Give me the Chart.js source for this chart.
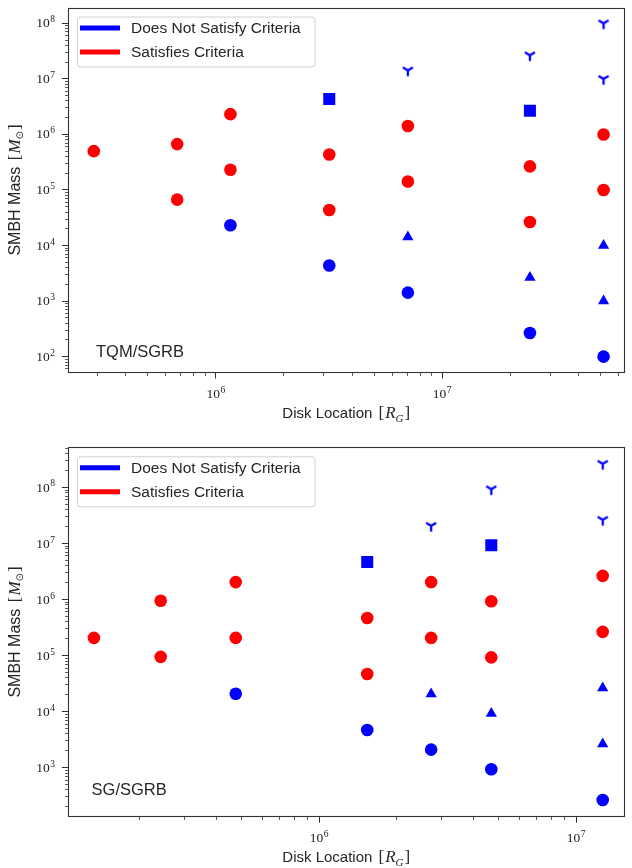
<!DOCTYPE html>
<html>
<head>
<meta charset="utf-8">
<script src="https://cdn.jsdelivr.net/npm/chart.js@4.4.1/dist/chart.umd.min.js"></script>
<style>
  html, body { margin: 0; padding: 0; background: #fff; }
  .panel { position: absolute; left: 0; width: 632px; height: 434px; }
  #p1 { top: 0; }
  #p2 { top: 434px; }
</style>
</head>
<body>
<div class="panel" id="p1"><canvas id="tqmChart"></canvas></div>
<div class="panel" id="p2"><canvas id="sgChart"></canvas></div>
<script>
// ---- data: disk location R [R_G] vs SMBH mass M [M_sun] ----
// top panel: TQM/SGRB
const tqmRedR = [2.89e5, 6.75e5, 6.75e5, 1.16e6, 1.16e6, 3.17e6, 3.17e6, 7.05e6, 7.05e6, 2.44e7, 2.44e7, 5.16e7, 5.16e7];
const tqmRedM = [5.0e5, 6.7e5, 6.7e4, 2.32e6, 2.32e5, 4.36e5, 4.36e4, 1.42e6, 1.42e5, 2.66e5, 2.66e4, 1.0e6, 1.0e5];
const tqmCircleR = [1.16e6, 3.17e6, 7.05e6, 2.44e7, 5.16e7];
const tqmCircleM = [2.32e4, 4.36e3, 1.42e3, 2.66e2, 1.0e2];
const tqmTriR = [7.05e6, 2.44e7, 5.16e7, 5.16e7];
const tqmTriM = [1.42e4, 2.66e3, 1.0e4, 1.0e3];
const tqmSquareR = [3.17e6, 2.44e7];
const tqmSquareM = [4.36e6, 2.66e6];
const tqmTriDownR = [7.05e6, 2.44e7, 5.16e7, 5.16e7];
const tqmTriDownM = [1.42e7, 2.66e7, 1.0e8, 1.0e7];

// bottom panel: SG/SGRB
const sgRedR = [1.33e5, 2.42e5, 2.42e5, 4.74e5, 4.74e5, 1.54e6, 1.54e6, 2.73e6, 2.73e6, 4.68e6, 4.68e6, 1.27e7, 1.27e7];
const sgRedM = [2.07e5, 9.5e5, 9.5e4, 2.05e6, 2.07e5, 4.7e5, 4.7e4, 2.05e6, 2.07e5, 9.3e5, 9.3e4, 2.65e6, 2.65e5];
const sgCircleR = [4.74e5, 1.54e6, 2.73e6, 4.68e6, 1.27e7];
const sgCircleM = [2.09e4, 4.7e3, 2.1e3, 9.4e2, 2.65e2];
const sgTriR = [2.73e6, 4.68e6, 1.27e7, 1.27e7];
const sgTriM = [2.07e4, 9.3e3, 2.65e4, 2.65e3];
const sgSquareR = [1.54e6, 4.68e6];
const sgSquareM = [4.7e6, 9.3e6];
const sgTriDownR = [2.73e6, 4.68e6, 1.27e7, 1.27e7];
const sgTriDownM = [2.07e7, 9.3e7, 2.65e8, 2.65e7];

// axis ranges and labelled decades
const tqmXRange = [2.246e5, 6.32e7];
const tqmYRange = [54, 1.85e8];
const sgXRange = [1.064e5, 1.53e7];
const sgYRange = [139, 5.0e8];
const tqmXMajors = [1e6, 1e7];
const tqmYMajors = [1e2, 1e3, 1e4, 1e5, 1e6, 1e7, 1e8];
const sgXMajors = [1e6, 1e7];
const sgYMajors = [1e3, 1e4, 1e5, 1e6, 1e7, 1e8];

const legendLabels = ['Does Not Satisfy Criteria', 'Satisfies Criteria'];
const BLUE = '#0000ff';
const RED = '#ff0000';
const legendColors = [BLUE, RED];

const SANS = '"Liberation Sans", Arial, sans-serif';
const SERIF = '"Liberation Serif", "DejaVu Serif", serif';

function pts(xs, ys) {
  return xs.map((x, i) => ({ x: x, y: ys[i] }));
}

// matplotlib "tri_down" marker, drawn once and used as a point image
function triDownMarker() {
  const c = document.createElement('canvas');
  c.width = 14;
  c.height = 14;
  const g = c.getContext('2d');
  const r = 5.8, cx = 7, cy = 7;
  g.strokeStyle = BLUE;
  g.lineWidth = 2.3;
  g.beginPath();
  g.moveTo(cx, cy); g.lineTo(cx, cy + r);
  g.moveTo(cx, cy); g.lineTo(cx - 0.866 * r, cy - 0.5 * r);
  g.moveTo(cx, cy); g.lineTo(cx + 0.866 * r, cy - 0.5 * r);
  g.stroke();
  return c;
}
const TRI_DOWN = triDownMarker();

function dataset(xs, ys, style, color, radius) {
  return {
    data: pts(xs, ys),
    showLine: false,
    pointStyle: style,
    pointRadius: radius,
    pointHoverRadius: radius,
    pointBackgroundColor: color,
    pointBorderColor: color,
    pointBorderWidth: 0
  };
}

function isDecade(v) {
  const e = Math.log10(v);
  return Math.abs(e - Math.round(e)) < 1e-9;
}

function logTicks(lo, hi) {
  const out = [];
  for (let e = Math.floor(Math.log10(lo)); e <= Math.ceil(Math.log10(hi)); e++) {
    for (let m = 1; m < 10; m++) {
      const v = m * Math.pow(10, e);
      if (v >= lo && v <= hi) out.push({ value: v });
    }
  }
  return out;
}

// "10" with a raised exponent, as matplotlib's log tick labels
function drawPower(ctx, value, x, y, align) {
  const base = '10';
  const sup = String(Math.round(Math.log10(value)));
  ctx.font = '13.5px ' + SERIF;
  const wb = ctx.measureText(base).width;
  ctx.font = '9.5px ' + SERIF;
  const ws = ctx.measureText(sup).width;
  const total = wb + 0.5 + ws;
  const x0 = align === 'right' ? x - total : x - total / 2;
  ctx.textAlign = 'left';
  ctx.textBaseline = 'middle';
  ctx.font = '13.5px ' + SERIF;
  ctx.fillText(base, x0, y);
  ctx.font = '9.5px ' + SERIF;
  ctx.fillText(sup, x0 + wb + 0.5, y - 4);
}

// text made of several runs (plain, italic, subscript)
function drawRuns(ctx, runs, x, y, align) {
  let total = 0;
  runs.forEach(r => {
    ctx.font = r.font;
    r.w = ctx.measureText(r.text).width + (r.gap || 0);
    total += r.w;
  });
  let cx = align === 'center' ? x - total / 2 : x;
  ctx.textAlign = 'left';
  ctx.textBaseline = 'alphabetic';
  runs.forEach(r => {
    ctx.font = r.font;
    ctx.fillText(r.text, cx, y + (r.dy || 0));
    cx += r.w;
  });
}

const xTitleRuns = [
  { text: 'Disk Location ', font: '15px ' + SANS, gap: 2 },
  { text: '[', font: '17px ' + SERIF, gap: 1 },
  { text: 'R', font: 'italic 17px ' + SERIF },
  { text: 'G', font: 'italic 11px ' + SERIF, dy: 3.5, gap: 1 },
  { text: ']', font: '17px ' + SERIF }
];
const yTitleRuns = [
  { text: 'SMBH Mass ', font: '16px ' + SANS, gap: 2 },
  { text: '[', font: '17px ' + SERIF, gap: 1 },
  { text: 'M', font: 'italic 17px ' + SERIF },
  { text: '⊙', font: '10px "DejaVu Sans", sans-serif', dy: 3.5, gap: 1 },
  { text: ']', font: '17px ' + SERIF }
];

// frame, tick labels, legend, panel label and axis titles
const panelDecor = {
  id: 'panelDecor',
  afterDraw(chart, args, opts) {
    const ctx = chart.ctx;
    const a = chart.chartArea;
    const xs = chart.scales.x, ys = chart.scales.y;
    ctx.save();

    ctx.strokeStyle = '#333';
    ctx.lineWidth = 1.1;
    ctx.strokeRect(Math.round(a.left) - 0.5, Math.round(a.top) - 0.5,
      Math.round(a.right) - Math.round(a.left) + 1, Math.round(a.bottom) - Math.round(a.top) + 1);

    ctx.fillStyle = '#222';
    opts.xMajors.forEach(v => drawPower(ctx, v, xs.getPixelForValue(v), a.bottom + 22.5, 'center'));
    opts.yMajors.forEach(v => drawPower(ctx, v, a.left - 14, ys.getPixelForValue(v) + 0.5, 'right'));

    // legend box
    const lx = a.left + 8.5, ly = a.top + 8.5, lw = 237.5, lh = 50;
    ctx.beginPath();
    ctx.roundRect(lx, ly, lw, lh, 3);
    ctx.fillStyle = 'rgba(255,255,255,0.8)';
    ctx.fill();
    ctx.strokeStyle = '#d0d0d0';
    ctx.lineWidth = 1;
    ctx.stroke();
    legendLabels.forEach((label, i) => {
      const yy = ly + 11 + i * 24;
      ctx.strokeStyle = legendColors[i];
      ctx.lineWidth = 5;
      ctx.beginPath();
      ctx.moveTo(lx + 2.5, yy);
      ctx.lineTo(lx + 42.5, yy);
      ctx.stroke();
      ctx.fillStyle = '#262626';
      ctx.font = '15.5px ' + SANS;
      ctx.textAlign = 'left';
      ctx.textBaseline = 'middle';
      ctx.fillText(label, lx + 53.5, yy + 1);
    });

    // panel label
    ctx.fillStyle = '#262626';
    ctx.font = '16.5px ' + SANS;
    ctx.textAlign = 'left';
    ctx.textBaseline = 'middle';
    ctx.fillText(opts.label, opts.labelX, opts.labelY);

    // axis titles
    ctx.fillStyle = '#262626';
    drawRuns(ctx, xTitleRuns, (a.left + a.right) / 2, a.bottom + 46.5, 'center');
    ctx.translate(19.5, (a.top + a.bottom) / 2);
    ctx.rotate(-Math.PI / 2);
    drawRuns(ctx, yTitleRuns, 0, 0, 'center');
    ctx.restore();
  }
};

function axis(range, isX, size) {
  return {
    type: 'logarithmic',
    min: range[0],
    max: range[1],
    afterBuildTicks(scale) {
      scale.ticks = logTicks(range[0], range[1]);
    },
    afterFit(scale) {
      if (isX) {
        scale.height = size;
        scale.paddingLeft = 0;
        scale.paddingRight = 0;
      } else {
        scale.width = size;
        scale.paddingTop = 0;
        scale.paddingBottom = 0;
      }
    },
    border: { display: false },
    grid: {
      drawOnChartArea: false,
      drawTicks: true,
      tickLength: 7,
      tickColor: '#333',
      tickWidth: c => (isDecade(c.tick.value) ? 1 : 0.8),
      // minor ticks keep only the 4 px next to the frame
      tickBorderDash: c => (isDecade(c.tick.value) ? [] : (isX ? [4, 50] : [0, 3, 4, 50]))
    },
    ticks: {
      autoSkip: false,
      maxRotation: 0,
      callback: () => ''   // labels are drawn by panelDecor with raised exponents
    }
  };
}

function buildChart(id, p) {
  return new Chart(document.getElementById(id), {
    type: 'scatter',
    data: {
      datasets: [
        dataset(p.redR, p.redM, 'circle', RED, 6.3),
        dataset(p.circleR, p.circleM, 'circle', BLUE, 6.3),
        dataset(p.triR, p.triM, 'triangle', BLUE, 6.5),
        dataset(p.squareR, p.squareM, 'rect', BLUE, 8.5),
        dataset(p.triDownR, p.triDownM, TRI_DOWN, BLUE, 7)
      ]
    },
    options: {
      responsive: true,
      maintainAspectRatio: false,
      animation: false,
      events: [],
      layout: { padding: { top: p.padTop, right: 1.5, left: 0, bottom: 0 } },
      plugins: {
        legend: { display: false },
        tooltip: { enabled: false },
        panelDecor: {
          label: p.label, labelX: p.labelX, labelY: p.labelY,
          xMajors: p.xMajors, yMajors: p.yMajors
        }
      },
      scales: {
        x: axis(p.xRange, true, p.xAxisHeight),
        y: axis(p.yRange, false, 69)
      }
    },
    plugins: [panelDecor]
  });
}

buildChart('tqmChart', {
  redR: tqmRedR, redM: tqmRedM,
  circleR: tqmCircleR, circleM: tqmCircleM,
  triR: tqmTriR, triM: tqmTriM,
  squareR: tqmSquareR, squareM: tqmSquareM,
  triDownR: tqmTriDownR, triDownM: tqmTriDownM,
  xRange: tqmXRange, yRange: tqmYRange,
  xMajors: tqmXMajors, yMajors: tqmYMajors,
  padTop: 5.5, xAxisHeight: 62.5,
  label: 'TQM/SGRB', labelX: 96, labelY: 352
});

buildChart('sgChart', {
  redR: sgRedR, redM: sgRedM,
  circleR: sgCircleR, circleM: sgCircleM,
  triR: sgTriR, triM: sgTriM,
  squareR: sgSquareR, squareM: sgSquareM,
  triDownR: sgTriDownR, triDownM: sgTriDownM,
  xRange: sgXRange, yRange: sgYRange,
  xMajors: sgXMajors, yMajors: sgYMajors,
  padTop: 14.3, xAxisHeight: 52.3,
  label: 'SG/SGRB', labelX: 91.6, labelY: 356.7
});
</script>
</body>
</html>
